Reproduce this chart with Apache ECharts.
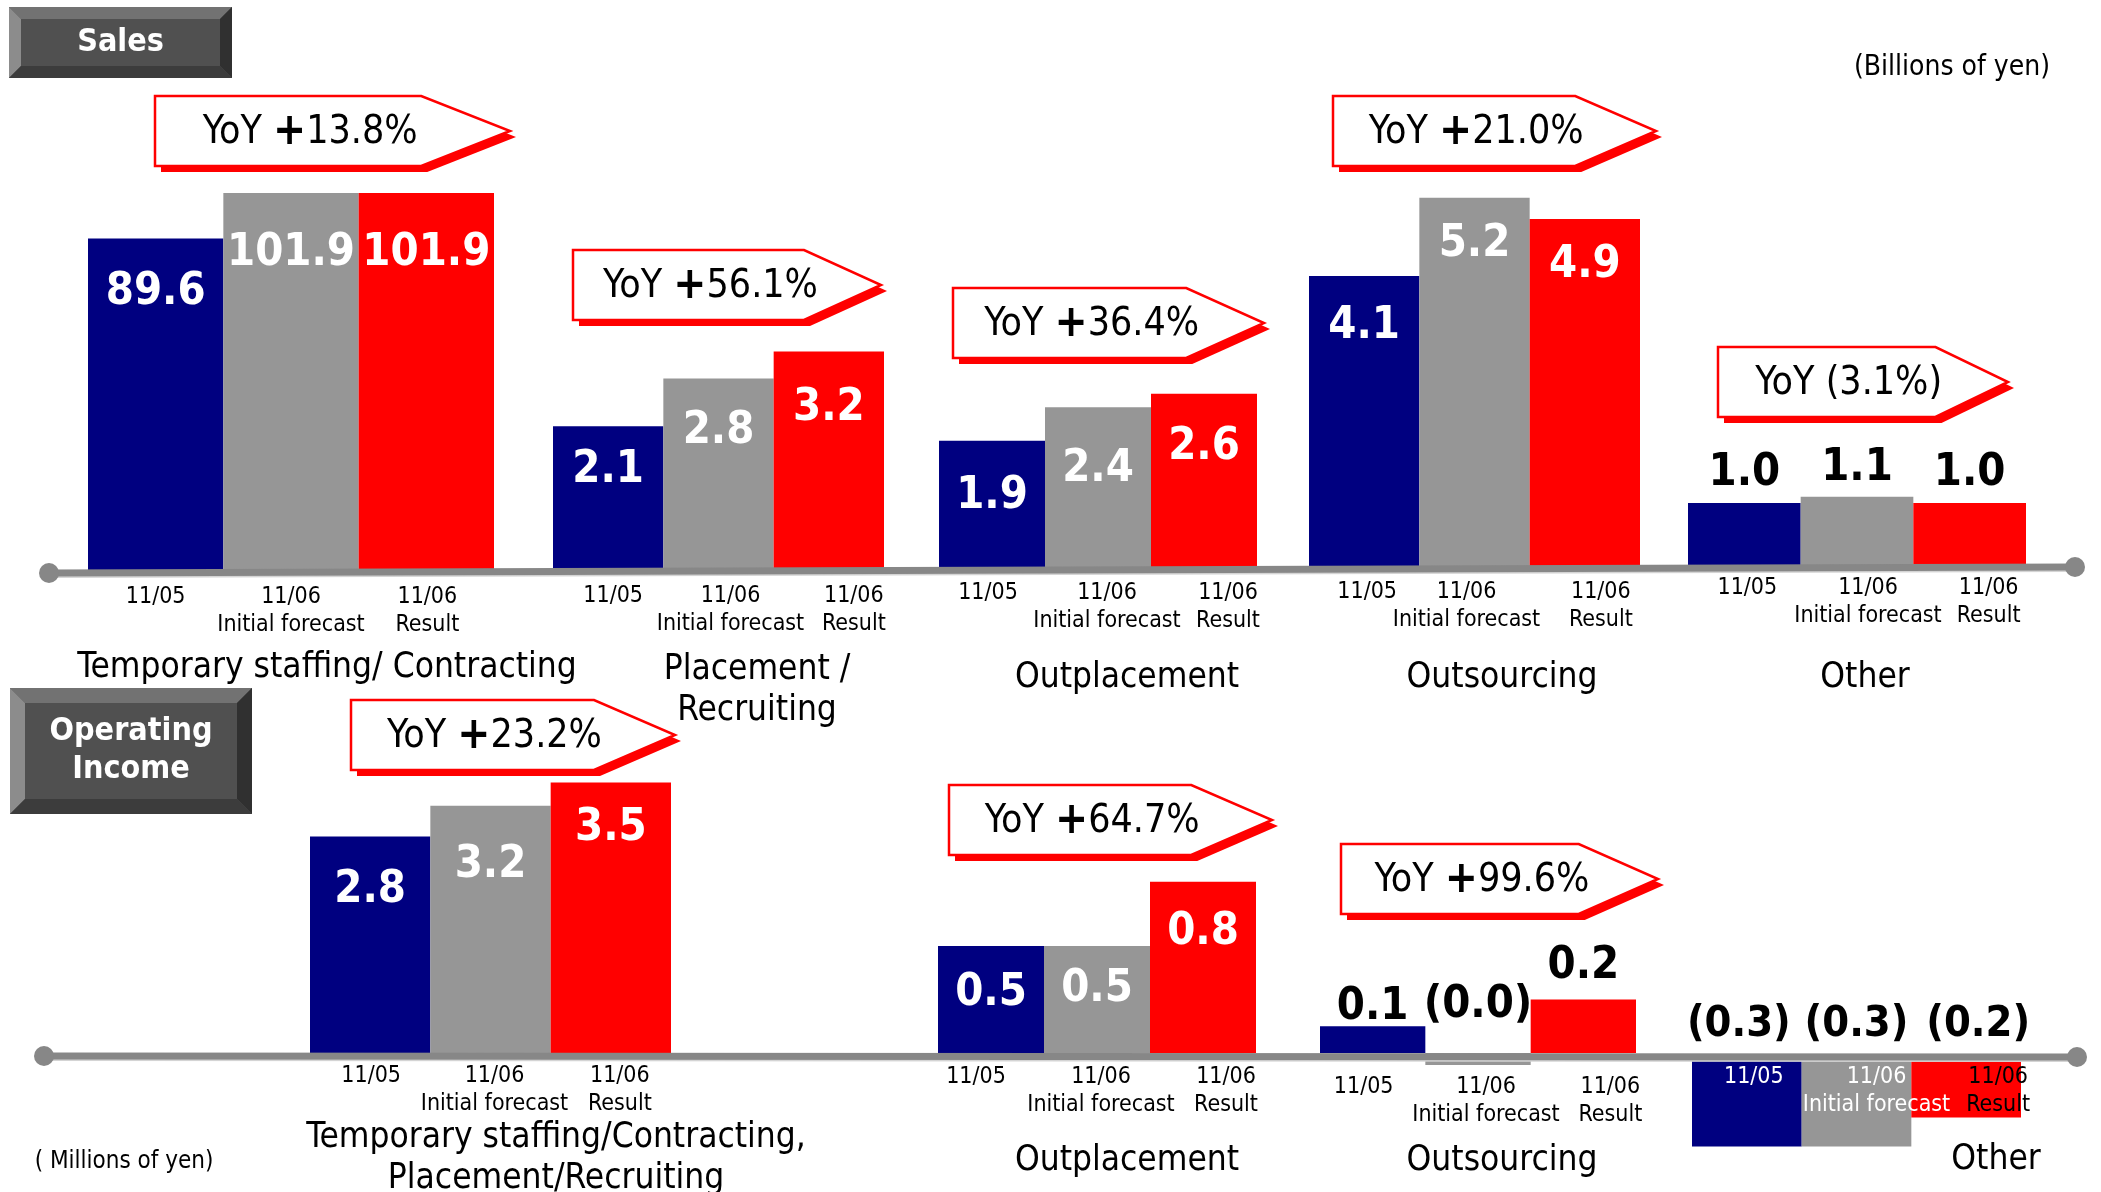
<!DOCTYPE html>
<html>
<head>
<meta charset="utf-8">
<script src="https://cdn.jsdelivr.net/npm/echarts@6/dist/echarts.min.js"></script>
<style>
  html, body { margin: 0; padding: 0; background: #fff; }
  #chart { width: 2101px; height: 1192px; }
</style>
</head>
<body>
<div id="chart"></div>
<script>
// ---- data ----
const periods = ['11/05', '11/06\nInitial forecast', '11/06\nResult'];

const salesSegments = ['Temporary staffing/ Contracting', 'Placement /\nRecruiting', 'Outplacement', 'Outsourcing', 'Other'];
const salesTemp = [89.6, 101.9, 101.9];
const salesPlacement = [2.1, 2.8, 3.2];
const salesOutplacement = [1.9, 2.4, 2.6];
const salesOutsourcing = [4.1, 5.2, 4.9];
const salesOther = [1.0, 1.1, 1.0];
const salesYoY = ['+13.8%', '+56.1%', '+36.4%', '+21.0%', '(3.1%)'];

const incomeSegments = ['Temporary staffing/Contracting,\nPlacement/Recruiting', 'Outplacement', 'Outsourcing', 'Other'];
const incomeTempPlacement = [2.8, 3.2, 3.5];
const incomeOutplacement = [0.5, 0.5, 0.8];
const incomeOutsourcing = [0.1, -0.045, 0.2];
const incomeOther = [-0.3, -0.3, -0.2];
const incomeYoY = ['+23.2%', '+64.7%', '+99.6%'];

// ---- look ----
const FONT = "'DejaVu Sans Condensed', 'DejaVu Sans', sans-serif";
const barColors = ['#000080', '#969696', '#ff0000'];
const fmt = v => v < 0 ? '(' + Math.abs(v).toFixed(1) + ')' : v.toFixed(1);

// Each panel has its own scale: x span, baseline y, pixels per unit, value range,
// value-label placement, period-label gap below the baseline and horizontal nudges.
const panels = [
  { values: salesTemp,           x0: 88,   x1: 494,  base: 570,  k: 3.70, min: 0,    max: 110, pos: 'insideTop', dist: [31, 38, 38], gap: 13, nudge: [0, 0, 1] },
  { values: salesPlacement,      x0: 553,  x1: 884,  base: 569,  k: 68,   min: 0,    max: 4,   pos: 'insideTop', dist: [22, 30, 34], gap: 13, nudge: [5, 12, 25] },
  { values: salesOutplacement,   x0: 939,  x1: 1257, base: 568,  k: 67,   min: 0,    max: 4,   pos: 'insideTop', dist: [33, 40, 31], gap: 11, nudge: [-4, 9, 24] },
  { values: salesOutsourcing,    x0: 1309, x1: 1640, base: 567,  k: 71,   min: 0,    max: 6,   pos: 'insideTop', dist: [28, 24, 24], gap: 11, nudge: [3, -8, 16] },
  { values: salesOther,          x0: 1688, x1: 2026, base: 565,  k: 62,   min: 0,    max: 2,   pos: 'top',       dist: [7, 6, 7],    gap: 9,  nudge: [3, 11, 19] },
  { values: incomeTempPlacement, x0: 310,  x1: 671,  base: 1053, k: 77.3, min: 0,    max: 4,   pos: 'insideTop', dist: [31, 37, 23], gap: 9,  nudge: [1, 4, 9] },
  { values: incomeOutplacement,  x0: 938,  x1: 1256, base: 1053, k: 214,  min: 0,    max: 1,   pos: 'insideTop', dist: [25, 21, 28], gap: 10, nudge: [-15, 4, 23] },
  { values: incomeOutsourcing,   x0: 1320, x1: 1636, base: 1053, k: 267,  min: -0.1, max: 0.3, pos: 'top',       dist: [-4, 25, 11], gap: 20, nudge: [-9, 8, 27] },
  { values: incomeOther,         x0: 1692, x1: 2021, base: 1059, k: 292,  min: -0.4, max: 0.1, pos: 'top',       dist: [13, 13, 13], gap: 4,  nudge: [7, 20, 32],
    labelSize: 43, labelShift: [-8, 0, 12] }
];

const grid = [], xAxis = [], yAxis = [], series = [];
panels.forEach((p, i) => {
  grid.push({
    left: p.x0, width: p.x1 - p.x0,
    top: p.base - p.max * p.k, height: (p.max - p.min) * p.k,
    containLabel: false, outerBoundsMode: 'none'
  });
  const darkBars = i === 8;   // period labels sit on the negative bars here
  const rich = {};
  p.nudge.forEach((n, j) => {
    rich['s' + j] = {
      fontFamily: FONT, fontSize: 23, lineHeight: 28,
      color: darkBars && j < 2 ? '#fff' : '#000',
      padding: n >= 0 ? [0, 0, 0, 2 * n] : [0, -2 * n, 0, 0]
    };
  });
  xAxis.push({
    type: 'category', gridIndex: i, data: periods, z: 10,
    axisLine: { show: false, onZero: false },
    axisTick: { show: false },
    axisLabel: {
      interval: 0,
      // labels hang from the zero line, which sits above the grid bottom when values go negative
      margin: p.gap + p.min * p.k,
      fontFamily: FONT, fontSize: 23, lineHeight: 28, color: '#000',
      formatter: (v, idx) => v.split('\n').map(line => '{s' + idx + '|' + line + '}').join('\n'),
      rich: rich
    }
  });
  yAxis.push({ type: 'value', gridIndex: i, min: p.min, max: p.max, show: false, splitLine: { show: false } });
  const inside = p.pos === 'insideTop';
  const size = p.labelSize || 45;
  series.push({
    type: 'bar', xAxisIndex: i, yAxisIndex: i, z: 2,
    barCategoryGap: '0%', barGap: '0%',
    data: p.values.map((v, j) => ({
      value: v,
      itemStyle: { color: barColors[j] },
      label: { distance: p.dist[j], offset: [p.labelShift ? p.labelShift[j] : 0, 0] }
    })),
    label: {
      show: true, position: p.pos, formatter: o => fmt(o.value),
      fontFamily: FONT, fontWeight: 'bold', fontSize: size, lineHeight: size,
      color: inside ? '#fff' : '#000'
    },
    emphasis: { disabled: true }
  });
});

// ---- decorations: bevelled section tags, baseline rules, YoY call-outs, titles ----
function bevelTag(x, y, w, h, b, lines, lh) {
  const els = [
    { type: 'rect', shape: { x: x, y: y, width: w, height: h }, style: { fill: '#505050' } },
    { type: 'polygon', shape: { points: [[x, y], [x + w, y], [x + w - b, y + b], [x + b, y + b]] }, style: { fill: '#727272' } },
    { type: 'polygon', shape: { points: [[x, y], [x + b, y + b], [x + b, y + h - b], [x, y + h]] }, style: { fill: '#8c8c8c' } },
    { type: 'polygon', shape: { points: [[x + w, y], [x + w, y + h], [x + w - b, y + h - b], [x + w - b, y + b]] }, style: { fill: '#303030' } },
    { type: 'polygon', shape: { points: [[x, y + h], [x + w, y + h], [x + w - b, y + h - b], [x + b, y + h - b]] }, style: { fill: '#3c3c3c' } },
    { type: 'text', style: { text: lines, x: x + w / 2, y: y + h / 2, align: 'center', verticalAlign: 'middle',
        fill: '#fff', fontFamily: FONT, fontWeight: 'bold', fontSize: 32, lineHeight: lh } }
  ];
  return els.map(e => Object.assign(e, { z: 30, silent: true }));
}

function rule(x0, y0, x1, y1) {
  return [
    { type: 'line', shape: { x1: x0, y1: y0 + 4, x2: x1, y2: y1 + 4 }, style: { stroke: '#d4d4d4', lineWidth: 2 } },
    { type: 'line', shape: { x1: x0, y1: y0, x2: x1, y2: y1 }, style: { stroke: '#878787', lineWidth: 7 } },
    { type: 'circle', shape: { cx: x0, cy: y0, r: 10 }, style: { fill: '#878787' } },
    { type: 'circle', shape: { cx: x1, cy: y1, r: 10 }, style: { fill: '#878787' } }
  ].map(e => Object.assign(e, { z: 15, silent: true }));
}

function callout(x, y, w, yoy) {
  const h = 70, tip = w * 0.25, body = w - tip, s = 6;
  const pts = (dx, dy) => [[x + dx, y + dy], [x + body + dx, y + dy], [x + w + dx, y + h / 2 + dy],
                           [x + body + dx, y + h + dy], [x + dx, y + h + dy]];
  const plus = yoy.charAt(0) === '+';
  const txt = plus ? '{t|YoY }{p|+}{t|' + yoy.slice(1) + '}' : '{t|YoY ' + yoy + '}';
  return [
    { type: 'polygon', shape: { points: pts(s, s) }, style: { fill: '#ff0000' }, z: 20 },
    { type: 'polygon', shape: { points: pts(0, 0) }, style: { fill: '#fff', stroke: '#ff0000', lineWidth: 2.5 }, z: 21 },
    { type: 'text', z: 22, style: {
        text: txt, x: x + body / 2 + 22, y: y + h / 2 + 2, align: 'center', verticalAlign: 'middle',
        rich: {
          t: { fontFamily: FONT, fontSize: 39, color: '#000' },
          p: { fontFamily: FONT, fontSize: 44, fontWeight: 'bold', color: '#000' }
        }
    } }
  ].map(e => Object.assign(e, { silent: true }));
}

function title(text, x, y) {
  return { type: 'text', z: 25, silent: true, style: {
    text: text, x: x, y: y, align: 'center', verticalAlign: 'middle',
    fontFamily: FONT, fontSize: 35, lineHeight: 41, fill: '#000' } };
}

const salesCallouts = [[155, 96, 355], [573, 250, 308], [953, 288, 311], [1333, 96, 323], [1718, 347, 290]];
const incomeCallouts = [[351, 700, 324], [949, 785, 323], [1341, 844, 317]];
const salesTitlePos = [[327, 668], [757, 690], [1127, 678], [1502, 678], [1865, 678]];
const incomeTitlePos = [[556, 1158], [1127, 1161], [1502, 1161], [1996, 1160]];

let graphic = [];
graphic = graphic.concat(bevelTag(9, 7, 223, 71, 12, 'Sales', 36));
graphic = graphic.concat(bevelTag(10, 688, 242, 126, 15, 'Operating\nIncome', 38));
graphic = graphic.concat(rule(49, 573, 2075, 567));
graphic = graphic.concat(rule(44, 1056, 2077, 1057));
salesCallouts.forEach((c, i) => { graphic = graphic.concat(callout(c[0], c[1], c[2], salesYoY[i])); });
incomeCallouts.forEach((c, i) => { graphic = graphic.concat(callout(c[0], c[1], c[2], incomeYoY[i])); });
salesSegments.forEach((s, i) => graphic.push(title(s, salesTitlePos[i][0], salesTitlePos[i][1])));
incomeSegments.forEach((s, i) => graphic.push(title(s, incomeTitlePos[i][0], incomeTitlePos[i][1])));
graphic.push({ type: 'text', z: 25, silent: true, style: { text: '(Billions of yen)', x: 1952, y: 68, align: 'center',
  verticalAlign: 'middle', fontFamily: FONT, fontSize: 28, fill: '#000' } });
graphic.push({ type: 'text', z: 25, silent: true, style: { text: '( Millions of yen)', x: 124, y: 1162, align: 'center',
  verticalAlign: 'middle', fontFamily: FONT, fontSize: 24, fill: '#000' } });

const chart = echarts.init(document.getElementById('chart'), null, { renderer: 'canvas' });
chart.setOption({
  animation: false,
  backgroundColor: '#fff',
  grid: grid, xAxis: xAxis, yAxis: yAxis, series: series,
  graphic: graphic
});
</script>
</body>
</html>
